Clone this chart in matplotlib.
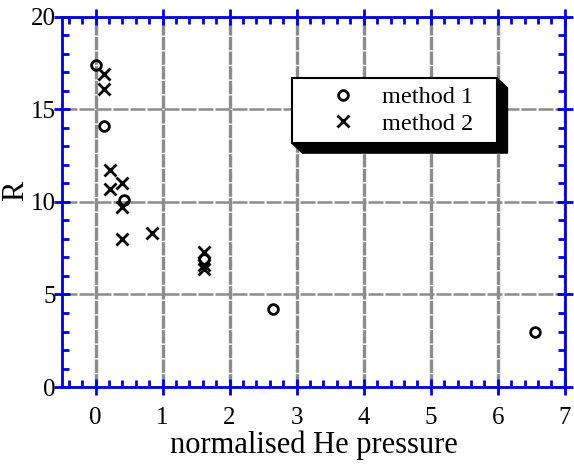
import matplotlib.pyplot as plt
from matplotlib.patches import Polygon, Rectangle
from matplotlib.ticker import MultipleLocator

# values for both methods
pressure_m1 = [0.01, 0.13, 0.43, 1.62, 2.64, 6.55]
ratio_m1 = [17.4, 14.1, 10.1, 6.9, 4.2, 3.0]

pressure_m2 = [0.13, 0.13, 0.21, 0.21, 0.40, 0.40, 0.40, 0.84, 1.62, 1.62, 1.62]
ratio_m2 = [16.9, 16.1, 11.7, 10.7, 11.0, 9.7, 8.0, 8.3, 7.3, 6.6, 6.4]

plt.rcParams['font.family'] = ['Liberation Serif', 'DejaVu Serif']

fig = plt.figure(figsize=(5.74, 4.68), dpi=100)
ax = fig.add_axes([0.108, 0.173, 0.876, 0.791])

ax.plot(pressure_m1, ratio_m1, 'o', mfc='none', mec='black', ms=7, mew=2,
        label='method 1', zorder=3)
ax.plot(pressure_m2, ratio_m2, 'x', color='black', ms=9, mew=2,
        label='method 2', zorder=3)

ax.set_xlim(-0.5, 7)
ax.set_ylim(0, 20)
ax.xaxis.set_major_locator(MultipleLocator(1))
ax.xaxis.set_minor_locator(MultipleLocator(0.2))
ax.yaxis.set_major_locator(MultipleLocator(5))
ax.yaxis.set_minor_locator(MultipleLocator(1))

for s in ax.spines.values():
    s.set_color('#0000dd')
    s.set_linewidth(2)
ax.tick_params(which='major', direction='inout', length=11, width=2,
               color='#0000dd', top=True, right=True, labelsize=18)
ax.tick_params(axis='x', which='major', pad=9)
ax.tick_params(axis='y', which='major', pad=-1)
ax.tick_params(which='minor', direction='in', length=5, width=2,
               color='#0000dd', top=True, right=True)

ax.xaxis.grid(True, which='major', color='#8c8c8c', lw=2.4, ls=(0, (4, 0.4)))
ax.yaxis.grid(True, which='major', color='#8c8c8c', lw=1.8, ls=(0, (6, 0.8)))
ax.set_axisbelow(True)

ax.set_xlabel('normalised He pressure', fontsize=22, labelpad=1)
ax.set_ylabel('R', fontsize=22)
ax.yaxis.set_label_coords(-0.064, 0.53)

# legend box with a solid drop shadow (axes coordinates)
bx0, bx1, by0, by1 = 0.457, 0.865, 0.659, 0.835
sx, sy = 0.021, 0.027
shadow = [(bx0, by0), (bx0 + sx, by0 - sy), (bx1 + sx, by0 - sy),
          (bx1 + sx, by1 - sy), (bx1, by1)]
ax.add_patch(Polygon(shadow, closed=True, color='black', transform=ax.transAxes,
                     zorder=4.8, clip_on=False))
ax.add_patch(Rectangle((bx0, by0), bx1 - bx0, by1 - by0, facecolor='white',
                       edgecolor='black', lw=1.5, transform=ax.transAxes,
                       zorder=4.9))

leg = ax.legend(loc='center left', bbox_to_anchor=(0.511, 0.747), fontsize=17.5,
                frameon=False, borderpad=0, handletextpad=0.58,
                handlelength=2.0, labelspacing=0.2, borderaxespad=0)
leg.set_zorder(5)

fig.savefig('out.png', dpi=100)
